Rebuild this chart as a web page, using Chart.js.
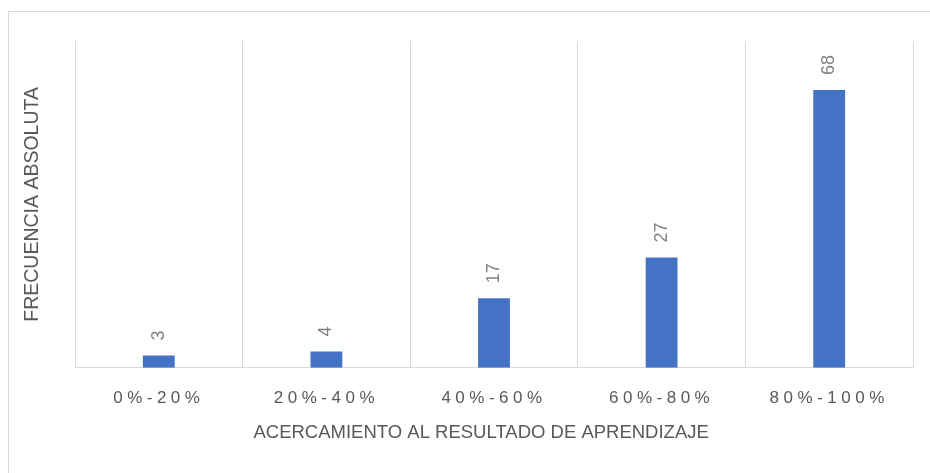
<!DOCTYPE html>
<html>
<head>
<meta charset="utf-8">
<script src="https://cdn.jsdelivr.net/npm/chart.js@4/dist/chart.umd.min.js"></script>
<style>
  html, body { margin: 0; padding: 0; background: #fff; overflow: hidden; }
  #wrap { position: relative; width: 930px; height: 473px; }
</style>
</head>
<body>
<div id="wrap"><canvas id="c"></canvas></div>
<script>
const categories = ["0%-20%", "20%-40%", "40%-60%", "60%-80%", "80%-100%"];
const frecuencias = [3, 4, 17, 27, 68];
const xTitle = "ACERCAMIENTO AL RESULTADO DE APRENDIZAJE";
const yTitle = "FRECUENCIA ABSOLUTA";

const FONT = "'Liberation Sans', Arial, sans-serif";

const decorPlugin = {
  id: 'decor',
  beforeDraw(chart) {
    const ctx = chart.ctx;
    ctx.save();
    ctx.strokeStyle = '#d9d9d9';
    ctx.lineWidth = 1;
    ctx.strokeRect(8.5, 11.5, 940, 480);
    ctx.restore();
  },
  afterDatasetsDraw(chart) {
    const ctx = chart.ctx;
    const meta = chart.getDatasetMeta(0);
    const data = chart.data.datasets[0].data;
    ctx.save();
    ctx.fillStyle = '#7f7f7f';
    ctx.font = "18px " + FONT;
    ctx.textAlign = 'left';
    ctx.textBaseline = 'middle';
    meta.data.forEach((bar, i) => {
      ctx.save();
      ctx.translate(bar.x, bar.y - 15);
      ctx.rotate(-Math.PI / 2);
      ctx.fillText(String(data[i]), 0, 0);
      ctx.restore();
    });
    ctx.restore();
    // letter spacing for x tick labels (drawn in a later layer)
    ctx.letterSpacing = '4.5px';
  },
  afterDraw(chart) {
    chart.ctx.letterSpacing = '0px';
  }
};

new Chart(document.getElementById('c'), {
  type: 'bar',
  data: {
    labels: categories,
    datasets: [{
      data: frecuencias,
      backgroundColor: '#4472c4',
      borderWidth: 0,
      categoryPercentage: 1,
      barPercentage: 0.19
    }]
  },
  options: {
    responsive: true,
    maintainAspectRatio: false,
    animation: false,
    layout: { padding: { top: 41, right: 17, left: 21.3, bottom: 29 } },
    plugins: {
      legend: { display: false },
      tooltip: { enabled: false },
      title: { display: false }
    },
    scales: {
      x: {
        grid: { display: true, color: '#d9d9d9', lineWidth: 1, drawTicks: false, offset: true },
        border: { display: true, color: '#d9d9d9', width: 1 },
        ticks: {
          z: 1,
          color: '#595959',
          font: { family: FONT, size: 17 },
          padding: 20,
          maxRotation: 0,
          autoSkip: false
        },
        title: {
          display: true,
          text: xTitle + '\u00A0\u00A0\u00A0\u00A0\u00A0',
          color: '#595959',
          font: { family: FONT, size: 18.5 },
          padding: { top: -6.4, bottom: 0 }
        }
      },
      y: {
        min: 0,
        max: 80,
        grid: { display: false, drawTicks: false },
        border: { display: false },
        ticks: { display: false },
        title: {
          display: true,
          text: yTitle,
          color: '#595959',
          font: { family: FONT, size: 19.5 },
          padding: { top: 0, bottom: 30.3 }
        }
      }
    }
  },
  plugins: [decorPlugin]
});
</script>
</body>
</html>
